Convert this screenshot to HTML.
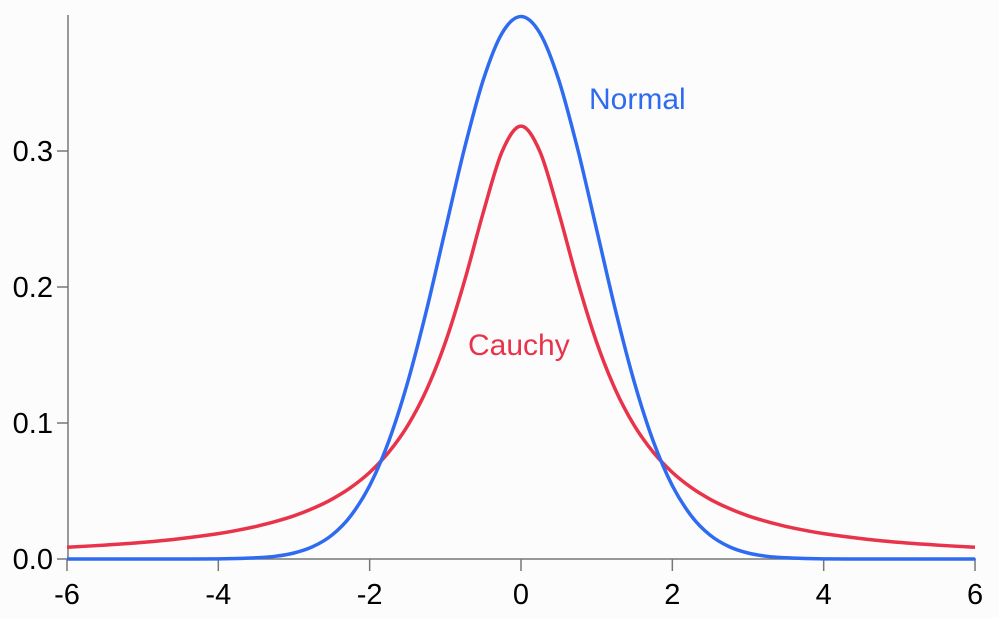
<!DOCTYPE html>
<html><head><meta charset="utf-8"><style>
body{margin:0;background:#fcfcfc;}
svg{display:block;font-family:"Liberation Sans",sans-serif;}
</style></head><body>
<svg id="chart" width="999" height="618" viewBox="0 0 999 618">
<g id="axes"></g>
<path id="cauchy" fill="none" stroke="#e8334a" stroke-width="3.5"/>
<path id="normal" fill="none" stroke="#2f6bf0" stroke-width="3.5"/>
<text x="589" y="109" font-size="30" fill="#2f6bf0">Normal</text>
<text x="468" y="355" font-size="30" fill="#e8334a">Cauchy</text>
</svg>
<script>
const xs=[-6,-5.5,-5,-4.5,-4,-3.75,-3.5,-3.25,-3,-2.75,-2.5,-2.25,-2,-1.75,-1.5,-1.25,-1,-0.75,-0.5,-0.25,0,0.25,0.5,0.75,1,1.25,1.5,1.75,2,2.25,2.5,2.75,3,3.25,3.5,3.75,4,4.5,5,5.5,6];
const normalVals=[0,0,0,0,0.0001,0.0004,0.0009,0.0020,0.0044,0.0091,0.0175,0.0317,0.0540,0.0863,0.1295,0.1826,0.2420,0.3011,0.3521,0.3867,0.3989,0.3867,0.3521,0.3011,0.2420,0.1826,0.1295,0.0863,0.0540,0.0317,0.0175,0.0091,0.0044,0.0020,0.0009,0.0004,0.0001,0,0,0,0];
const cauchyVals=[0.0086,0.0102,0.0122,0.0150,0.0187,0.0211,0.0240,0.0275,0.0318,0.0372,0.0439,0.0525,0.0637,0.0784,0.0979,0.1242,0.1592,0.2037,0.2546,0.2996,0.3183,0.2996,0.2546,0.2037,0.1592,0.1242,0.0979,0.0784,0.0637,0.0525,0.0439,0.0372,0.0318,0.0275,0.0240,0.0211,0.0187,0.0150,0.0122,0.0102,0.0086];
const xTicks=[-6,-4,-2,0,2,4,6];
const yTicks=[0,0.1,0.2,0.3];
const yTickLabels=["0.0","0.1","0.2","0.3"];
const X=v=>521+v*75.67, Y=v=>559-v*1360;
const NS="http://www.w3.org/2000/svg";
const ax=document.getElementById('axes');
function mk(t,a,p){const e=document.createElementNS(NS,t);for(const k in a)e.setAttribute(k,a[k]);p.appendChild(e);return e;}
let l=mk('line',{x1:68,y1:15,x2:68,y2:559,stroke:'#777','stroke-width':1.5},ax);


l=mk('line',{x1:67,y1:559,x2:976,y2:559,stroke:'#777','stroke-width':1.5},ax);


xTicks.forEach(v=>{
 const t=mk('line',{x1:X(v),y1:559,x2:X(v),y2:571,stroke:'#777','stroke-width':1.5},ax);
 
 
 const s=mk('text',{x:X(v),y:604,'font-size':29,'text-anchor':'middle',fill:'#000'},ax);
 s.textContent=v;
 
 
});
yTicks.forEach((v,i)=>{
 const t=mk('line',{x1:57,y1:Y(v),x2:68,y2:Y(v),stroke:'#777','stroke-width':1.5},ax);
 
 
 const s=mk('text',{x:53,y:Y(v)+10,'font-size':29,'text-anchor':'end',fill:'#000'},ax);
 s.textContent=yTickLabels[i];
 
 
});
function path(vals){
 const p=xs.map((x,i)=>[X(x),Y(vals[i])]);
 let d='M'+p[0][0].toFixed(1)+','+p[0][1].toFixed(1);
 for(let i=0;i<p.length-1;i++){
  const p0=p[Math.max(0,i-1)],p1=p[i],p2=p[i+1],p3=p[Math.min(p.length-1,i+2)];
  const c1=[p1[0]+(p2[0]-p0[0])/6,p1[1]+(p2[1]-p0[1])/6];
  const c2=[p2[0]-(p3[0]-p1[0])/6,p2[1]-(p3[1]-p1[1])/6];
  d+='C'+c1.map(n=>n.toFixed(1))+' '+c2.map(n=>n.toFixed(1))+' '+p2.map(n=>n.toFixed(1));
 }
 return d;
}
document.getElementById('normal').setAttribute('d',path(normalVals));
document.getElementById('cauchy').setAttribute('d',path(cauchyVals));
</script>
</body></html>
